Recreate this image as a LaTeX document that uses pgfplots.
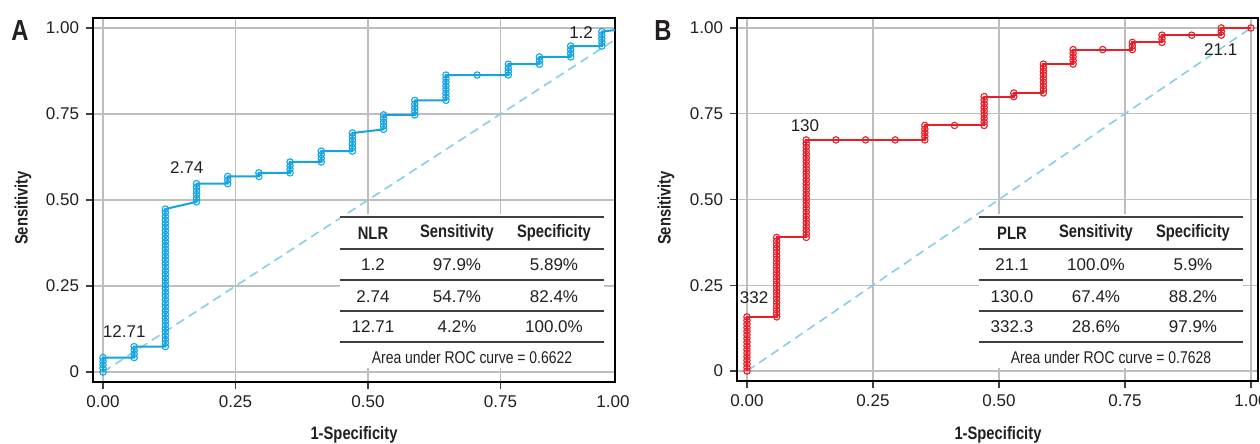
\documentclass[border=0pt]{standalone}
\usepackage{fontspec}
\setmainfont{Liberation Sans}[FakeStretch=0.82]
\newfontfamily\numfont{Liberation Sans}
\usepackage{pgfplots}
\pgfplotsset{compat=1.18}

\definecolor{rocBlue}{RGB}{20,165,225}
\definecolor{rocRed}{RGB}{232,30,40}
\definecolor{diagBlue}{RGB}{135,206,235}
\definecolor{gridc}{RGB}{190,190,190}
\definecolor{txt}{RGB}{35,31,32}

\newcommand\fs{\fontsize{8.5bp}{10bp}\selectfont}

\pgfplotsset{
  rocax/.style={
    scale only axis, anchor=south west,
    ymin=-0.029, ymax=1.029,
    ytick={0,0.25,0.5,0.75,1}, yticklabels={0,0.25,0.50,0.75,1.00},
    grid=major, grid style={draw=gridc, line width=0.6bp},
    axis line style={line width=0.8bp, black},
    tick align=outside, major tick length=3.5bp,
    xtick pos=lower, ytick pos=left,
    tick style={line width=0.6bp, black!75},
    tick label style={font=\fs\numfont, text=txt},
    /pgf/number format/assume math mode=true,
  },
  roccurve/.style={line width=1bp, #1, mark=o, mark size=1.6bp,
    mark options={line width=0.55bp, #1}},
  diag/.style={diagBlue, line width=0.8bp, dash pattern=on 4.5bp off 2.8bp},
}

% one table row: left edge, row centre, three cells
\newcommand\tabrow[5]{%
  \node[font=\fs\numfont, text=txt] at (#1+33,#2) {#3};
  \node[font=\fs\numfont, text=txt] at (#1+117,#2) {#4};
  \node[font=\fs\numfont, text=txt] at (#1+214,#2) {#5};}
\newcommand\roctable[3]{%
  \fill[white] (#1,214) rectangle (#1+264,368);
  \foreach \yy in {217,249,280,311,342}
    \draw[black!75, line width=0.7bp] (#1,\yy) -- (#1+264,\yy);
  \node[font=\fontsize{9bp}{10bp}\selectfont\bfseries, text=txt] at (#1+33,233) {#2};
  \node[font=\fontsize{9bp}{10bp}\selectfont\bfseries, text=txt] at (#1+117,233) {Sensitivity};
  \node[font=\fontsize{9bp}{10bp}\selectfont\bfseries, text=txt] at (#1+214,233) {Specificity};
  \node[font=\fs, text=txt] at (#1+132,357) {Area under ROC curve = #3};}

\begin{document}
\begin{tikzpicture}
\useasboundingbox (0,0) rectangle (630bp,222bp);

\begin{axis}[rocax, at={(46.5bp,31bp)}, width=261bp, height=182bp,
  xmin=-0.0189, xmax=0.966,
  xtick={0,0.25,0.5,0.75}, xticklabels={0.00,0.25,0.50,0.75}]
\addplot[diag] coordinates {(0,0) (1,1)};
\addplot[roccurve=rocBlue] coordinates {
(0,0) (0,0.0105) (0,0.0211) (0,0.0316) (0,0.0421)
(0.0588,0.0421) (0.0588,0.0526) (0.0588,0.0632) (0.0588,0.0737)
(0.1176,0.0737) (0.1176,0.0842) (0.1176,0.0947) (0.1176,0.1053) (0.1176,0.1158)
(0.1176,0.1263) (0.1176,0.1368) (0.1176,0.1474) (0.1176,0.1579) (0.1176,0.1684)
(0.1176,0.1789) (0.1176,0.1895) (0.1176,0.2) (0.1176,0.2105) (0.1176,0.2211)
(0.1176,0.2316) (0.1176,0.2421) (0.1176,0.2526) (0.1176,0.2632) (0.1176,0.2737)
(0.1176,0.2842) (0.1176,0.2947) (0.1176,0.3053) (0.1176,0.3158) (0.1176,0.3263)
(0.1176,0.3368) (0.1176,0.3474) (0.1176,0.3579) (0.1176,0.3684) (0.1176,0.3789)
(0.1176,0.3895) (0.1176,0.4) (0.1176,0.4105) (0.1176,0.4211) (0.1176,0.4316)
(0.1176,0.4421) (0.1176,0.4526) (0.1176,0.4632) (0.1176,0.4737)
(0.1765,0.4947) (0.1765,0.5053) (0.1765,0.5158) (0.1765,0.5263) (0.1765,0.5368) (0.1765,0.5474)
(0.2353,0.5474) (0.2353,0.5579) (0.2353,0.5684)
(0.2941,0.5684) (0.2941,0.5789)
(0.3529,0.5789) (0.3529,0.5895) (0.3529,0.6) (0.3529,0.6105)
(0.4118,0.6105) (0.4118,0.6211) (0.4118,0.6316) (0.4118,0.6421)
(0.4706,0.6421) (0.4706,0.6526) (0.4706,0.6632) (0.4706,0.6737) (0.4706,0.6842) (0.4706,0.6947)
(0.5294,0.7053) (0.5294,0.7158) (0.5294,0.7263) (0.5294,0.7368) (0.5294,0.7474)
(0.5882,0.7474) (0.5882,0.7579) (0.5882,0.7684) (0.5882,0.7789) (0.5882,0.7895)
(0.6471,0.7895) (0.6471,0.8) (0.6471,0.8105) (0.6471,0.8211) (0.6471,0.8316)
(0.6471,0.8421) (0.6471,0.8526) (0.6471,0.8632)
(0.7059,0.8632)
(0.7647,0.8632) (0.7647,0.8737) (0.7647,0.8842) (0.7647,0.8947)
(0.8235,0.8947) (0.8235,0.9053) (0.8235,0.9158)
(0.8824,0.9158) (0.8824,0.9263) (0.8824,0.9368) (0.8824,0.9474)
(0.9412,0.9474) (0.9412,0.9579) (0.9412,0.9684) (0.9412,0.9789) (0.9412,0.9895)
(1,1)};
\node[font=\fs\numfont, text=txt] at (axis cs:0.04,0.119) {12.71};
\node[font=\fs\numfont, text=txt] at (axis cs:0.158,0.593) {2.74};
\node[font=\fs\numfont, text=txt] at (axis cs:0.902,0.988) {1.2};
\end{axis}

\begin{axis}[rocax, at={(368.5bp,31.5bp)}, width=260.5bp, height=181.5bp,
  xmin=-0.0198, xmax=1.014,
  xtick={0,0.25,0.5,0.75,1}, xticklabels={0.00,0.25,0.50,0.75,1.00}]
\addplot[diag] coordinates {(0,0) (1,1)};
\addplot[roccurve=rocRed] coordinates {
(0,0) (0,0.0105) (0,0.0211) (0,0.0316) (0,0.0421) (0,0.0526) (0,0.0632) (0,0.0737)
(0,0.0842) (0,0.0947) (0,0.1053) (0,0.1158) (0,0.1263) (0,0.1368) (0,0.1474) (0,0.1579)
(0.0588,0.1579) (0.0588,0.1684) (0.0588,0.1789) (0.0588,0.1895) (0.0588,0.2) (0.0588,0.2105)
(0.0588,0.2211) (0.0588,0.2316) (0.0588,0.2421) (0.0588,0.2526) (0.0588,0.2632) (0.0588,0.2737)
(0.0588,0.2842) (0.0588,0.2947) (0.0588,0.3053) (0.0588,0.3158) (0.0588,0.3263) (0.0588,0.3368)
(0.0588,0.3474) (0.0588,0.3579) (0.0588,0.3684) (0.0588,0.3789) (0.0588,0.3895)
(0.1176,0.3895) (0.1176,0.4) (0.1176,0.4105) (0.1176,0.4211) (0.1176,0.4316) (0.1176,0.4421)
(0.1176,0.4526) (0.1176,0.4632) (0.1176,0.4737) (0.1176,0.4842) (0.1176,0.4947) (0.1176,0.5053)
(0.1176,0.5158) (0.1176,0.5263) (0.1176,0.5368) (0.1176,0.5474) (0.1176,0.5579) (0.1176,0.5684)
(0.1176,0.5789) (0.1176,0.5895) (0.1176,0.6) (0.1176,0.6105) (0.1176,0.6211) (0.1176,0.6316)
(0.1176,0.6421) (0.1176,0.6526) (0.1176,0.6632) (0.1176,0.6737)
(0.1765,0.6737) (0.2353,0.6737) (0.2941,0.6737)
(0.3529,0.6737) (0.3529,0.6842) (0.3529,0.6947) (0.3529,0.7053) (0.3529,0.7158)
(0.4118,0.7158)
(0.4706,0.7158) (0.4706,0.7263) (0.4706,0.7368) (0.4706,0.7474) (0.4706,0.7579)
(0.4706,0.7684) (0.4706,0.7789) (0.4706,0.7895) (0.4706,0.8)
(0.5294,0.8) (0.5294,0.8105)
(0.5882,0.8105) (0.5882,0.8211) (0.5882,0.8316) (0.5882,0.8421) (0.5882,0.8526)
(0.5882,0.8632) (0.5882,0.8737) (0.5882,0.8842) (0.5882,0.8947)
(0.6471,0.8947) (0.6471,0.9053) (0.6471,0.9158) (0.6471,0.9263) (0.6471,0.9368)
(0.7059,0.9368)
(0.7647,0.9368) (0.7647,0.9474) (0.7647,0.9579)
(0.8235,0.9579) (0.8235,0.9684) (0.8235,0.9789)
(0.8824,0.9789)
(0.9412,0.9789) (0.9412,0.9895) (0.9412,1)
(1,1)};
\node[font=\fs\numfont, text=txt] at (axis cs:0.115,0.714) {130};
\node[font=\fs\numfont, text=txt] at (axis cs:0.014,0.213) {332};
\node[font=\fs\numfont, text=txt] at (axis cs:0.94,0.936) {21.1};
\end{axis}

% tables, titles and panel letters, placed in pixel units of the reference
\begin{scope}[x=0.5bp, y=-0.5bp, shift={(0,222bp)}]
\roctable{340}{NLR}{0.6622}
\tabrow{340}{265}{1.2}{97.9\%}{5.89\%}
\tabrow{340}{297}{2.74}{54.7\%}{82.4\%}
\tabrow{340}{327}{12.71}{4.2\%}{100.0\%}
\roctable{979}{PLR}{0.7628}
\tabrow{979}{265}{21.1}{100.0\%}{5.9\%}
\tabrow{979}{297}{130.0}{67.4\%}{88.2\%}
\tabrow{979}{327}{332.3}{28.6\%}{97.9\%}

\node[font=\fs\numfont, text=txt] at (613,402) {1.00};

\node[font=\fontsize{9bp}{10bp}\selectfont\bfseries, text=txt] at (354,435) {1-Specificity};
\node[font=\fontsize{9bp}{10bp}\selectfont\bfseries, text=txt] at (998,435) {1-Specificity};
\node[font=\fontsize{9bp}{10bp}\selectfont\bfseries, text=txt, rotate=90] at (23,208) {Sensitivity};
\node[font=\fontsize{9bp}{10bp}\selectfont\bfseries, text=txt, rotate=90] at (666,208) {Sensitivity};
\node[font=\fontsize{14.5bp}{16bp}\selectfont\bfseries, text=txt] at (20,31) {A};
\node[font=\fontsize{14.5bp}{16bp}\selectfont\bfseries, text=txt] at (663,31) {B};
\end{scope}
\end{tikzpicture}
\end{document}
